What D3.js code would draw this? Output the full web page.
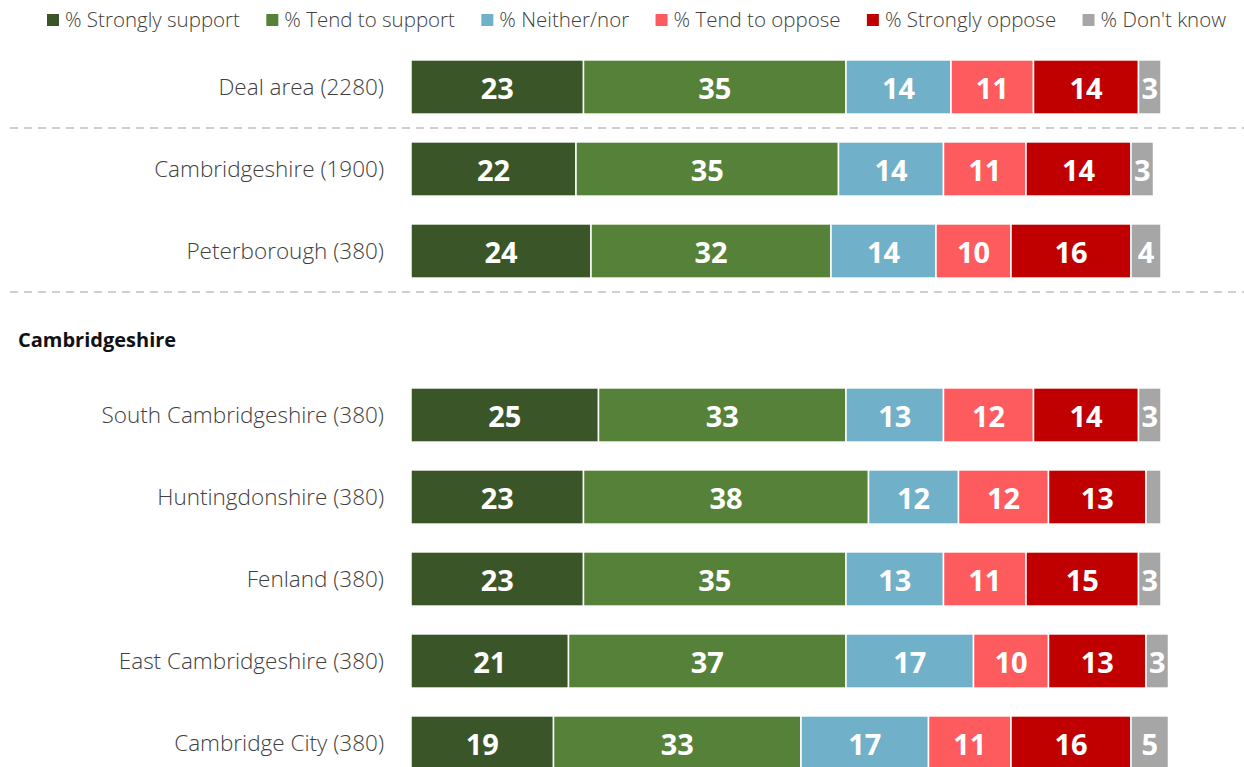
<!DOCTYPE html>
<html><head><meta charset="utf-8">
<script src="https://cdn.jsdelivr.net/npm/d3@7"></script>
<style>body{margin:0;background:#fff}svg{display:block}</style>
</head><body>
<svg id="c" width="1244" height="767"></svg>
<script>
const seriesNames = ["% Strongly support","% Tend to support","% Neither/nor","% Tend to oppose","% Strongly oppose","% Don't know"];
const seriesColors = ["#3a5528","#558139","#70b1c9","#fe5b5f","#c00000","#a6a6a6"];
const categories = ["Deal area (2280)","Cambridgeshire (1900)","Peterborough (380)","__heading","South Cambridgeshire (380)","Huntingdonshire (380)","Fenland (380)","East Cambridgeshire (380)","Cambridge City (380)"];
const headingText = "Cambridgeshire";
const stronglySupport = [23,22,24,null,25,23,23,21,19];
const tendSupport     = [35,35,32,null,33,38,35,37,33];
const neither         = [14,14,14,null,13,12,13,17,17];
const tendOppose      = [11,11,10,null,12,12,11,10,11];
const stronglyOppose  = [14,14,16,null,14,13,15,13,16];
const dontKnow        = [3,3,4,null,3,2,3,3,5];
const hideLabelBelow = 2.5;
const dividerAfter = ["Deal area (2280)","Peterborough (380)"];

const series = [stronglySupport,tendSupport,neither,tendOppose,stronglyOppose,dontKnow];
const svg = d3.select("#c");
const font = "'Segoe UI','Open Sans',sans-serif";

const x = d3.scaleLinear().domain([0,100]).range([411,1161]);
const y = d3.scaleBand().domain(categories).range([46,784]).paddingInner(0.34).paddingOuter(0.17);

dividerAfter.forEach(c=>{
  const yy = y(c)+y.bandwidth()+(y.step()-y.bandwidth())/2;
  svg.append("line").attr("x1",10).attr("x2",1244).attr("y1",yy).attr("y2",yy)
    .attr("stroke","#cfcfcf").attr("stroke-width",2).attr("stroke-dasharray","8,6");
});

svg.append("text").attr("x",18).attr("y",y("__heading")+y.bandwidth()/2+14)
  .attr("font-family",font).attr("font-weight","bold").attr("font-size",20).attr("fill","#111")
  .text(headingText);

categories.forEach((c,i)=>{
  if(c==="__heading") return;
  const g = svg.append("g");
  g.append("text").attr("x",384).attr("y",y(c)+y.bandwidth()/2).attr("dy","0.35em")
    .attr("text-anchor","end").attr("font-family",font).attr("font-weight",300).attr("font-size",22.5).attr("fill","#404040")
    .text(c);
  let cum=0;
  series.forEach((s,k)=>{
    const v=s[i];
    g.append("rect").attr("x",x(cum)).attr("y",y(c)).attr("width",x(cum+v)-x(cum)).attr("height",y.bandwidth())
      .attr("fill",seriesColors[k]).attr("stroke","#fff").attr("stroke-width",1.5);
    if(v>hideLabelBelow){
      g.append("text").attr("x",(x(cum)+x(cum+v))/2).attr("y",y(c)+y.bandwidth()/2+2).attr("dy","0.35em")
        .attr("text-anchor","middle").attr("font-family",font).attr("font-weight","bold").attr("font-size",29)
        .attr("fill","#fff").text(v);
    }
    cum+=v;
  });
});

const leg = svg.append("g");
let lx=0;
const items=[];
seriesNames.forEach((n,k)=>{
  const it = leg.append("g");
  it.append("rect").attr("x",0).attr("y",-6).attr("width",12).attr("height",12).attr("fill",seriesColors[k]);
  const t=it.append("text").attr("x",18).attr("y",0).attr("dy","0.35em").attr("font-family",font).attr("font-weight",300)
    .attr("font-size",20.5).attr("fill","#404040").text(n);
  items.push({it,w:18+t.node().getComputedTextLength()});
});
const totalText = d3.sum(items,d=>d.w);
const gap = (1226-47-totalText)/(items.length-1);
lx=47;
items.forEach(d=>{d.it.attr("transform",`translate(${lx},20)`); lx+=d.w+gap;});
</script>
</body></html>
